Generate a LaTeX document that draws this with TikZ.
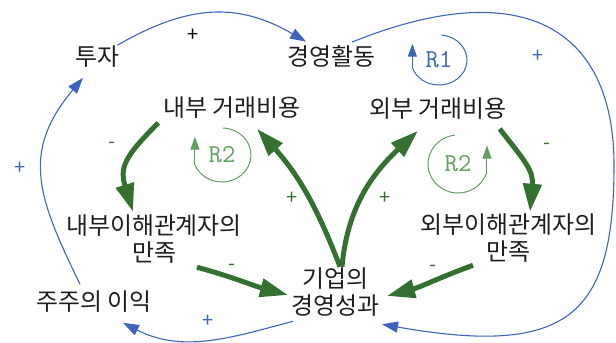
\documentclass[tikz,border=0pt]{standalone}
\usepackage{fontspec}
\setmainfont{Noto Sans CJK KR}
\usepackage{tikz}
\usetikzlibrary{arrows.meta,calc}
\definecolor{linkblue}{RGB}{62,100,190}
\definecolor{flowgreen}{RGB}{52,112,48}
\definecolor{loopgreen}{RGB}{98,158,98}
\definecolor{textdark}{RGB}{30,30,30}
\tikzset{
  var/.style     ={font=\fontsize{24}{27}\selectfont, text=textdark, align=center,
                   inner sep=1bp, outer sep=0pt},
  link/.style    ={-{Triangle[length=16bp,width=11bp]}, draw=linkblue, line width=1.1bp},
  flowg/.style   ={-{Triangle[length=28bp,width=18bp]}, draw=flowgreen, line width=5bp},
  pol/.style     ={font=\fontsize{20}{20}\selectfont, inner sep=0pt},
  loopname/.style={font=\ttfamily\fontsize{26}{26}\selectfont, inner sep=0pt},
  loopline/.style={line width=1bp}
}

\begin{document}
\begin{tikzpicture}[x=1bp,y=1bp]
\useasboundingbox (0,0) rectangle (616,-342);
% Variables
\node[var] (tuja)   at (97,-57)   {투자};
\node[var] (hwal)   at (331,-56)  {경영활동};
\node[var] (naebi)  at (232,-108) {내부 거래비용};
\node[var] (oebi)   at (438,-109) {외부 거래비용};
\node[var] (naeman) at (154,-239) {내부이해관계자의\\만족};
\node[var] (oeman)  at (508,-238) {외부이해관계자의\\만족};
\node[var] (seong)  at (335,-292) {기업의\\경영성과};
\node[var] (juju)   at (94,-302)  {주주의 이익};

% Blue links (outer loop)
\draw[link, shorten >=5bp] (tuja) to[out=30,in=150,looseness=1.1] (hwal);
\coordinate (rgt) at (614,-165);
\draw[link] ($(hwal.north)+(21,2)$) to[out=22,in=90,out distance=180bp,in distance=140bp] (rgt)
  to[out=-90,in=-10,out distance=150bp,in distance=190bp] ($(seong.south east)+(2,-7)$);
\draw[link] ($(seong.south west)+(3,-4)$) to[out=-165,in=-27] ($(juju.south)+(29,-9)$);
\draw[link] ($(juju.north)+(-14,6)$) to[out=116,in=-130,looseness=1.2] ($(tuja.south)+(-14,-9)$);

% Green flows (transaction costs)
\draw[flowg] ($(naebi.south west)+(-4,-3)$) to[out=225,in=107,looseness=1.3] ($(naeman.north)+(-21,2)$);
\draw[flowg] ($(oebi.south east)+(-8,-8)$) to[out=-52,in=85,looseness=1.2] ($(oeman.north)+(22,1)$);
\draw[flowg] ($(seong.north)+(5,0)$) to[out=111,in=-48] ($(naebi.south)+(25,-9)$);
\draw[flowg] ($(seong.north)+(7,0)$) to[out=85,in=-137] ($(oebi.south)+(-20,-10)$);
\draw[flowg] ($(naeman.south)+(43,-3)$) to[out=-15,in=165] ($(seong.west)+(-2,-3)$);
\draw[flowg] ($(oeman.south)+(-35,-2)$) to[out=200,in=15] ($(seong.east)+(7,-4)$);

% Polarities
\node[pol] (p1) at (193,-35) {+};
\node[pol, text=linkblue] (p2) at (538,-56) {+};
\node[pol, text=linkblue] (p3) at (20,-168) {+};
\node[pol, text=linkblue] (p4) at (208,-321) {+};
\node[pol, text=flowgreen] (p5) at (112,-145) {-};
\node[pol, text=flowgreen] (p6) at (292,-198) {+};
\node[pol, text=flowgreen] (p7) at (385,-198) {+};
\node[pol, text=flowgreen] (p8) at (547,-146) {-};
\node[pol, text=flowgreen] (p9) at (232,-267) {-};
\node[pol, text=flowgreen] (p10) at (433,-268) {-};

% Loop markers
\node[loopname, text=linkblue] (r1) at (439,-60) {R1};
\draw[loopline, draw=linkblue] ([shift={(85:28 and 25)}]r1.center)
  arc[start angle=85, end angle=-162, x radius=28, y radius=25] coordinate (r1e);
\draw[loopline, draw=linkblue, -{Triangle[length=13bp,width=9bp]}] (r1e) -- ++(0,24);

\node[loopname, text=loopgreen] (r2a) at (222,-155) {R2};
\draw[loopline, draw=loopgreen] ([shift={(88:29 and 27)}]r2a.center)
  arc[start angle=88, end angle=-159, x radius=29, y radius=27] coordinate (r2ae);
\draw[loopline, draw=loopgreen, -{Triangle[length=13bp,width=9bp]}] (r2ae) -- ++(0,28);

\node[loopname, text=loopgreen] (r2b) at (458,-164) {R2};
\draw[loopline, draw=loopgreen] ([shift={(96:30 and 29)}]r2b.center)
  arc[start angle=96, end angle=345, x radius=30, y radius=29] coordinate (r2be);
\draw[loopline, draw=loopgreen, -{Triangle[length=13bp,width=9bp]}] (r2be) -- ++(0,26);
\end{tikzpicture}
\end{document}
